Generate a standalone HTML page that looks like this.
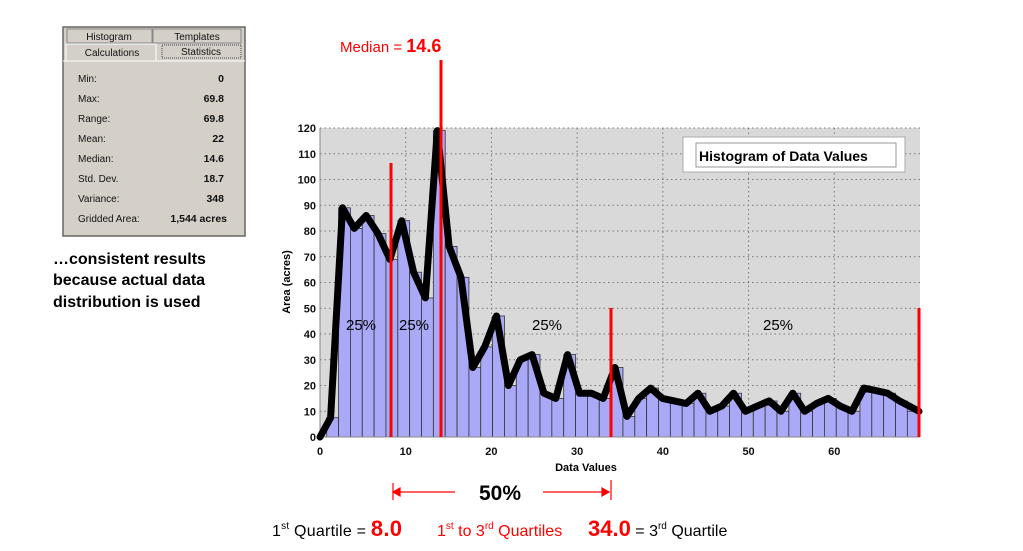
<!DOCTYPE html>
<html><head><meta charset="utf-8"><style>
html,body{margin:0;padding:0;background:#fff;width:1023px;height:551px;overflow:hidden;font-family:"Liberation Sans",Arial,sans-serif}
</style></head><body>
<svg id="s" width="1023" height="551" viewBox="0 0 1023 551" xmlns="http://www.w3.org/2000/svg" font-family="Liberation Sans, Arial, sans-serif">
<!-- stats panel -->
<rect x="63" y="27" width="182" height="209" fill="#d4d0c8" stroke="#666" stroke-width="1.5"/>
<rect x="67" y="29" width="85" height="14" fill="#d4d0c8" stroke="#888"/>
<rect x="153" y="29" width="88" height="14" fill="#d4d0c8" stroke="#888"/>
<rect x="66" y="44" width="90" height="17" fill="#d4d0c8" stroke="#fff"/>
<rect x="162" y="45" width="79" height="13" fill="#d4d0c8" stroke="#444" stroke-dasharray="1,1"/>
<line x1="63" y1="61" x2="245" y2="61" stroke="#fff"/>
<g font-size="10" fill="#111">
<text x="109" y="40" text-anchor="middle">Histogram</text>
<text x="197" y="40" text-anchor="middle">Templates</text>
<text x="112" y="56" text-anchor="middle">Calculations</text>
<text x="201" y="55" text-anchor="middle">Statistics</text>
<text x="78" y="82">Min:</text><text x="78" y="102">Max:</text><text x="78" y="122">Range:</text><text x="78" y="142">Mean:</text>
<text x="78" y="162">Median:</text><text x="78" y="182">Std. Dev.</text><text x="78" y="202">Variance:</text><text x="78" y="222">Gridded Area:</text>
</g>
<g font-size="10.5" font-weight="bold" text-anchor="end" fill="#111">
<text x="224" y="82">0</text><text x="224" y="102">69.8</text><text x="224" y="122">69.8</text><text x="224" y="142">22</text>
<text x="224" y="162">14.6</text><text x="224" y="182">18.7</text><text x="224" y="202">348</text><text x="227" y="222">1,544 acres</text>
</g>
<g font-size="16" font-weight="bold" fill="#000">
<text x="53" y="264">…consistent  results</text>
<text x="53" y="285">because actual data</text>
<text x="53" y="307">distribution is used</text>
</g>
<!-- plot -->
<rect x="320" y="128" width="600" height="309" fill="#d9d9d9"/>
<g id="grid" stroke="#777" stroke-dasharray="1.5,3" stroke-width="1"></g>
<g id="bars" fill="#a9a9f8" stroke="#333" stroke-width="0.8"></g>
<line x1="320" y1="128" x2="320" y2="437" stroke="#888"/>
<line x1="320" y1="437" x2="920" y2="437" stroke="#888"/>
<g id="ylab" font-size="11" font-weight="bold" text-anchor="end" fill="#111"></g>
<g id="xlab" font-size="11" font-weight="bold" text-anchor="middle" fill="#111"></g>
<text transform="translate(290,282) rotate(-90)" font-size="11" font-weight="bold" text-anchor="middle">Area (acres)</text>
<text x="586" y="471" font-size="11" font-weight="bold" text-anchor="middle">Data Values</text>
<polyline id="ln" fill="none" stroke="#000" stroke-width="7" stroke-linejoin="round" stroke-linecap="round"/>
<!-- legend -->
<rect x="683" y="137" width="222" height="35" fill="#fff" stroke="#aaa"/>
<rect x="696" y="143" width="200" height="24" fill="#fff" stroke="#999"/>
<text x="699" y="161" font-size="14" font-weight="bold">Histogram of Data Values</text>
<!-- red lines -->
<g stroke="#ff0000" stroke-width="3">
<line x1="391" y1="163" x2="391" y2="437"/>
<line x1="441" y1="60" x2="441" y2="437"/>
<line x1="611" y1="308" x2="611" y2="437"/>
<line x1="919" y1="308" x2="919" y2="437"/>
</g>
<g font-size="15" fill="#000">
<text x="346" y="330">25%</text><text x="399" y="330">25%</text><text x="532" y="330">25%</text><text x="763" y="330">25%</text>
</g>
<text x="340" y="52" font-size="15" fill="#ff0000">Median = <tspan font-size="18" font-weight="bold">14.6</tspan></text>
<!-- 50% arrow -->
<g stroke="#ff0000" stroke-width="1.2" fill="#ff0000">
<line x1="393" y1="492" x2="455" y2="492"/><polygon points="393,492 400,488 400,496"/>
<line x1="543" y1="492" x2="609" y2="492"/><polygon points="609,492 602,488 602,496"/>
<line x1="393" y1="483" x2="393" y2="500"/><line x1="611" y1="480" x2="611" y2="500"/>
</g>
<text x="500" y="500" font-size="21" font-weight="bold" text-anchor="middle">50%</text>
<text x="272" y="536" font-size="16" textLength="130">1<tspan font-size="10" dy="-7">st</tspan><tspan dy="7"> Quartile = </tspan><tspan fill="#ff0000" font-size="22" font-weight="bold">8.0</tspan></text>
<text x="437" y="536" font-size="16" fill="#ff0000">1<tspan font-size="10" dy="-7">st</tspan><tspan dy="7"> to 3</tspan><tspan font-size="10" dy="-7">rd</tspan><tspan dy="7"> Quartiles</tspan></text>
<text x="588" y="536" font-size="16"><tspan fill="#ff0000" font-size="22" font-weight="bold">34.0</tspan> = 3<tspan font-size="10" dy="-7">rd</tspan><tspan dy="7"> Quartile</tspan></text>
</svg>
<script>
var NS="http://www.w3.org/2000/svg";
function el(p,t,a,txt){var e=document.createElementNS(NS,t);for(var k in a)e.setAttribute(k,a[k]);if(txt!=null)e.textContent=txt;document.getElementById(p).appendChild(e);return e;}
var y0=437,sy=309/120,x0=320,sx=600/70;
for(var v=10;v<=120;v+=10){var y=y0-v*sy;el("grid","line",{x1:320,x2:920,y1:y,y2:y});}
for(var v=0;v<=120;v+=10){el("ylab","text",{x:316,y:y0-v*sy+4},v);}
for(var v=10;v<=60;v+=10){var x=x0+v*sx;el("grid","line",{x1:x,x2:x,y1:128,y2:437});}
for(var v=0;v<=60;v+=10){el("xlab","text",{x:x0+v*sx,y:455},v);}
var h=[7.5,89,81,86,79,69,84,64,54,119,74,62,27,35,47,20,30,32,17,15,32,17,17,15,27,8,15,19,15,14,13,17,10,12,17,10,12,14,10,17,10,13,15,12,10,19,18,17,14,10];
var bx=326.7,bw=11.85,pts=["320,437"];
for(var i=0;i<h.length;i++){var x=bx+i*bw,hh=h[i]*sy;el("bars","rect",{x:x,y:y0-hh,width:bw,height:hh});
pts.push((x+bw/2-2).toFixed(1)+","+(y0-h[i]*sy).toFixed(1));}
pts[pts.length-1]="919,"+(y0-10*sy).toFixed(1);
document.getElementById("ln").setAttribute("points",pts.join(" "));
</script>
</body></html>
